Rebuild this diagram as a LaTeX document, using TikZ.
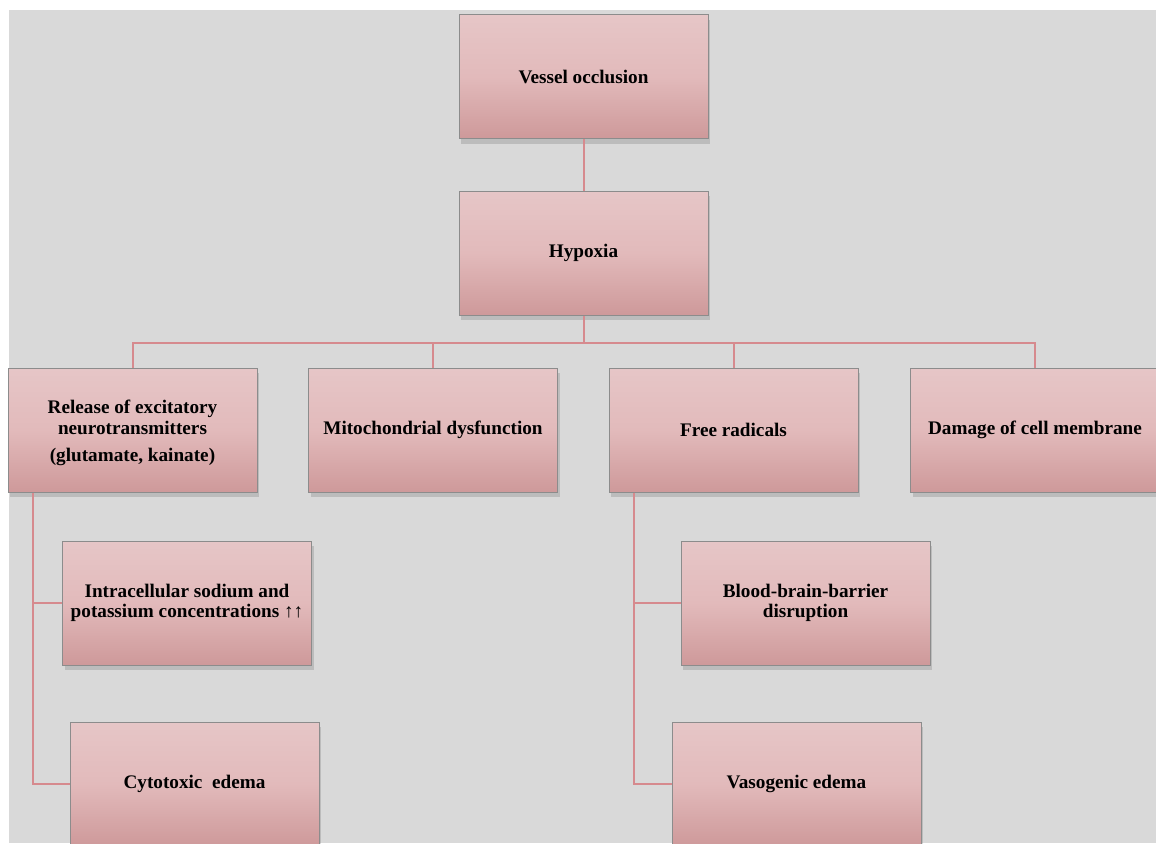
\documentclass[tikz,border=0pt]{standalone}
\usepackage{fontspec}
\setmainfont{Liberation Serif}
\usetikzlibrary{shadows}
\definecolor{bgray}{RGB}{217,217,217}
\definecolor{ltop}{RGB}{230,198,199}
\definecolor{lmid}{RGB}{226,186,187}
\definecolor{lbot}{RGB}{206,153,154}
\definecolor{bord}{RGB}{140,140,140}
\definecolor{conn}{RGB}{214,138,142}
\tikzset{
  box/.style={rectangle, draw=bord, line width=0.5pt,
    top color=ltop, bottom color=lbot, middle color=lmid,
    minimum width=124.5pt, minimum height=62pt, inner sep=2pt,
    align=center, font=\fontsize{9.6}{10.25}\selectfont\bfseries,
    drop shadow={shadow xshift=1pt, shadow yshift=-2.5pt, fill=black, opacity=0.13}},
  link/.style={draw=conn, line width=1pt}
}
\begin{document}
\begin{tikzpicture}[x=0.5pt,y=-0.5pt]
\useasboundingbox (0,0) rectangle (1156,843);
\fill[white] (0,0) rectangle (1156,843);
\fill[bgray] (9,10) rectangle (1156,843);
\node[box] (vo) at (583.5,76.5) {Vessel occlusion};
\node[box] (hy) at (583.5,253) {Hypoxia};
\node[box] (rel) at (132.5,430) {\rule{0pt}{10pt}Release of excitatory\\neurotransmitters\\[3.5pt](glutamate, kainate)};
\node[box] (mit) at (433,430) {Mitochondrial dysfunction};
\node[box] (fr) at (733.5,430) {Free radicals};
\node[box] (dam) at (1035,430) {Damage of cell membrane};
\node[box] (intra) at (187,603) {Intracellular sodium and\\potassium concentrations ↑↑};
\node[box] (cyto) at (194.5,784) {Cytotoxic\ \ edema};
\node[box] (bbb) at (805.5,603) {Blood-brain-barrier\\disruption};
\node[box] (vaso) at (796.5,784) {Vasogenic edema};
\coordinate (bar) at (0,343);
\coordinate (lx) at (33,0);
\coordinate (rx) at (634,0);
\draw[link] (vo.south) -- (hy.north);
\draw[link] (hy.south) -- (hy.south |- bar) -| (rel.north);
\draw[link] (hy.south |- bar) -| (mit.north);
\draw[link] (hy.south |- bar) -| (fr.north);
\draw[link] (hy.south |- bar) -| (dam.north);
\draw[link] (rel.south -| lx) |- (intra.west);
\draw[link] (rel.south -| lx) |- (cyto.west);
\draw[link] (fr.south -| rx) |- (bbb.west);
\draw[link] (fr.south -| rx) |- (vaso.west);
\end{tikzpicture}
\end{document}
